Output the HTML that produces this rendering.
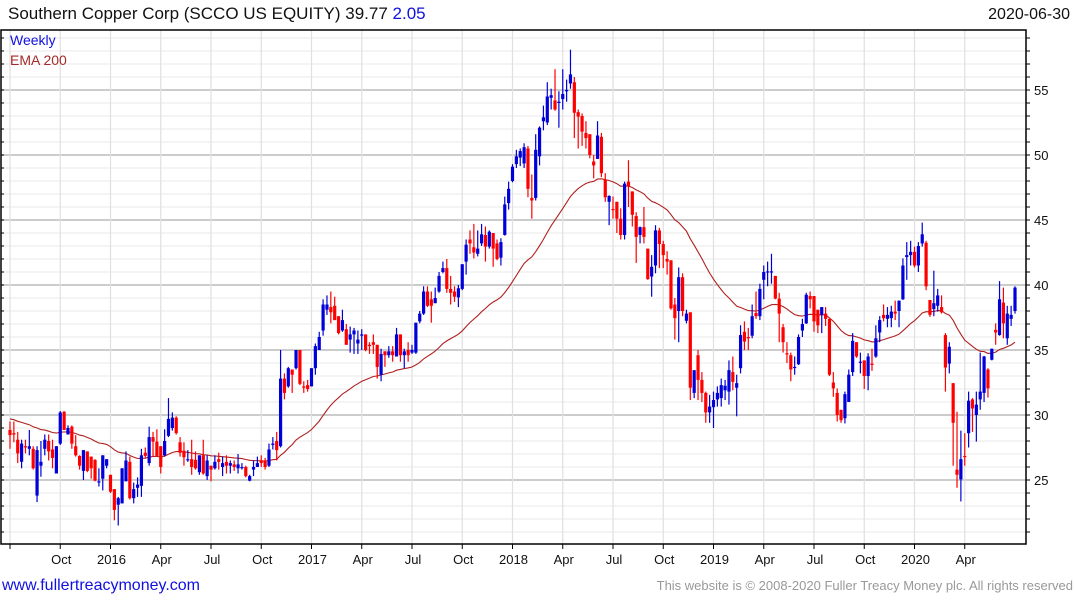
<!DOCTYPE html>
<html><head><meta charset="utf-8"><style>
html,body{margin:0;padding:0;background:#fff;}
svg{display:block;font-family:"Liberation Sans",sans-serif;}
</style></head><body>
<svg id="chart" width="1075" height="600" viewBox="0 0 1075 600">
<text x="8" y="19" font-size="17" fill="#111">Southern Copper Corp (SCCO US EQUITY) 39.77 <tspan fill="#1010e0">2.05</tspan></text>
<text x="1070" y="19" font-size="16" fill="#111" text-anchor="end">2020-06-30</text>
<g id="grid"></g>
<g id="ema"></g>
<g id="candles"></g>
<g id="axes"></g>
<text x="10" y="45" font-size="14" fill="#1010e0">Weekly</text>
<text x="10" y="65" font-size="14" fill="#a52a2a">EMA 200</text>
<text x="2" y="590" font-size="16" fill="#1010e0">www.fullertreacymoney.com</text>
<text x="1073" y="590" font-size="13" fill="#999" text-anchor="end">This website is © 2008-2020 Fuller Treacy Money plc. All rights reserved</text>
</svg>
<script>
const opens=[28.85,28.6,28.1,26.4,27.6,27.4,27.4,23.8,26.1,27.4,28.0,27.35,25.5,27.8,30.25,28.5,29.1,27.6,26.85,25.7,27.2,26.8,26.55,24.85,25.1,26.1,25.4,24.3,23.1,23.2,24.9,26.4,23.6,24.4,24.55,27.1,26.3,28.3,27.95,27.6,26.9,28.4,29.0,29.8,27.9,27.25,26.6,26.6,26.55,25.6,26.9,25.3,26.1,25.9,26.6,26.0,26.4,26.1,26.2,25.9,26.0,26.0,24.95,25.8,26.0,26.5,26.5,26.1,27.7,28.0,27.6,32.8,32.2,33.5,33.6,35.0,32.2,32.3,32.2,33.6,35.0,36.5,38.1,38.3,38.4,37.6,36.5,36.6,35.8,36.2,35.5,36.1,36.2,35.4,35.6,35.4,33.1,34.9,34.6,34.9,34.5,36.2,34.6,35.0,34.8,34.8,37.2,37.8,39.5,38.9,38.6,39.5,41.0,41.3,39.7,39.5,39.05,39.7,41.8,43.5,42.9,42.4,43.2,43.85,42.95,44.0,43.2,42.1,43.85,46.3,48.0,49.3,49.8,49.35,50.5,46.7,46.7,49.9,52.6,52.5,54.4,54.2,54.0,54.3,54.9,55.5,55.6,53.3,53.0,51.7,51.6,49.5,49.7,51.4,48.1,46.4,45.85,46.4,45.1,43.85,47.95,47.2,45.3,43.85,44.45,42.8,40.65,41.5,44.2,43.15,42.0,41.9,38.5,38.0,40.6,37.25,37.9,31.7,34.6,32.7,31.7,30.2,30.6,31.2,31.3,31.9,31.8,33.3,32.1,33.6,36.4,36.0,36.1,37.85,37.6,40.4,41.0,41.0,40.7,38.95,36.75,34.75,34.6,33.7,33.9,36.5,37.05,39.15,39.15,38.1,37.7,37.8,37.4,32.5,31.7,30.4,29.75,31.0,33.3,35.6,34.1,34.2,33.0,33.95,34.5,36.35,37.7,37.4,37.45,37.95,38.0,38.9,42.15,42.3,42.55,41.5,43.2,43.25,38.85,38.15,38.4,38.3,36.15,33.95,32.45,25.8,25.05,26.85,28.6,31.2,30.0,31.2,31.7,33.5,34.25,36.55,36.15,38.65,35.9,37.4,38.0];
const highs=[29.5,29.5,28.7,28.1,28.1,28.85,27.6,27.6,28.0,28.5,28.5,28.1,27.6,30.3,30.3,29.2,29.2,28.45,26.9,27.3,27.2,26.8,26.6,25.9,26.9,26.6,25.4,24.3,23.7,25.9,27.2,26.8,24.8,25.2,27.4,27.5,29.1,28.7,28.9,27.6,28.9,31.3,30.2,29.9,28.3,27.9,27.3,28.1,27.2,26.9,28.1,26.9,26.1,26.9,27.1,26.8,26.9,26.5,26.5,27.0,26.3,26.1,25.4,26.5,26.8,26.9,26.7,27.8,28.3,28.7,35.0,33.2,33.7,33.5,35.0,35.0,32.6,32.7,33.6,35.5,36.4,38.9,39.2,39.5,39.1,37.6,38.1,37.0,36.8,36.7,36.5,36.6,36.2,35.6,36.2,35.4,35.1,34.9,35.3,35.3,36.7,36.2,35.1,35.6,35.4,37.1,38.0,39.9,39.9,39.5,39.8,41.0,41.8,42.0,40.7,39.9,40.0,41.6,43.5,44.2,44.7,44.2,44.7,44.5,44.2,44.0,43.5,43.6,46.8,47.95,49.3,50.4,50.5,50.9,50.7,48.5,51.6,52.2,53.8,55.6,55.1,56.6,54.9,56.6,55.8,58.1,56.0,53.5,53.2,52.6,51.6,50.0,52.6,51.7,48.6,46.9,46.8,46.4,45.9,47.95,49.6,47.2,45.6,44.5,46.0,42.8,42.3,44.6,44.4,43.4,42.6,41.9,39.0,41.35,40.9,38.1,37.9,33.45,35.0,33.3,31.8,31.55,31.8,32.2,32.8,32.7,34.2,34.5,33.1,36.9,37.2,36.7,38.5,39.5,40.1,41.5,41.8,42.4,40.7,39.4,37.0,35.6,34.8,34.5,36.2,37.4,39.4,39.5,39.15,38.1,38.3,38.3,37.4,33.3,32.05,30.4,31.8,33.5,36.3,35.6,34.8,34.2,34.75,35.1,36.9,37.6,38.5,38.3,38.4,38.8,38.8,42.05,43.3,43.4,42.95,43.3,44.8,43.4,38.85,41.1,39.7,39.2,36.3,35.6,32.45,30.25,28.8,28.6,31.8,31.3,31.8,34.8,34.55,33.6,35.1,37.05,40.3,39.8,38.4,38.4,39.9];
const lows=[27.4,27.9,26.3,25.9,27.05,26.9,25.8,23.3,25.25,26.9,26.5,25.9,25.5,27.7,28.85,28.5,27.4,26.8,25.8,25.0,25.6,25.1,24.9,24.5,24.2,25.9,24.0,21.9,21.5,23.2,24.9,23.5,23.2,23.7,23.7,26.7,26.1,26.8,26.85,25.5,26.8,28.3,28.8,28.5,26.8,26.1,26.4,25.4,25.8,25.4,25.4,25.0,24.9,25.8,25.8,25.3,25.5,25.5,25.7,25.5,25.8,25.2,24.9,25.3,26.0,26.0,25.8,26.0,27.35,26.5,27.5,31.2,32.1,31.7,33.5,32.3,31.7,31.8,32.2,33.1,35.0,36.1,37.7,37.05,37.3,36.2,36.4,35.4,34.8,34.7,34.7,35.0,34.9,34.7,34.7,32.8,32.6,33.7,34.4,34.1,34.5,34.1,33.6,34.1,34.7,34.7,37.05,37.7,38.3,37.1,38.6,39.4,40.9,39.4,38.5,38.7,38.3,39.6,40.8,42.4,42.05,42.2,43.0,41.8,42.8,41.4,41.9,41.5,43.8,45.8,47.9,49.0,49.15,49.0,46.75,45.1,46.5,49.2,51.9,52.3,53.5,53.4,52.1,53.5,54.1,55.1,51.3,50.5,50.7,50.5,49.75,48.2,49.7,48.3,46.4,44.6,45.1,44.0,43.5,43.5,46.0,44.5,41.7,43.2,43.2,40.4,39.1,40.9,41.3,41.3,40.8,38.1,35.8,35.6,37.6,37.05,31.15,31.3,31.15,31.0,29.4,29.4,29.0,30.65,30.65,31.15,30.8,31.9,29.9,33.2,35.0,35.0,35.9,37.4,37.3,38.9,39.9,40.1,38.9,35.6,34.8,34.0,32.6,33.1,33.85,36.0,37.0,38.2,36.4,36.3,36.3,36.85,33.0,31.4,29.5,29.4,29.35,31.0,33.0,34.4,33.2,32.0,31.9,33.4,34.4,35.6,37.2,36.75,36.75,37.3,36.75,38.85,40.4,41.5,41.35,41.0,42.95,39.6,37.55,37.6,37.95,37.8,31.8,33.2,26.1,24.4,23.35,26.1,27.5,28.7,27.95,30.4,31.0,31.35,34.2,35.4,36.1,35.9,35.4,36.85,37.8];
const closes=[28.45,28.5,27.05,27.8,27.5,27.6,25.9,27.3,26.4,28.1,27.2,26.7,27.6,30.2,28.85,29.0,27.8,26.9,26.1,27.3,25.7,25.9,24.95,24.9,26.9,26.6,24.1,22.7,23.6,25.9,26.5,23.6,24.3,24.65,26.9,26.85,28.3,27.95,26.85,26.0,28.0,29.7,29.8,28.6,27.1,26.75,26.6,26.0,25.9,26.9,25.5,26.5,25.8,26.4,26.4,26.3,26.1,26.3,26.0,26.2,26.0,25.3,25.3,26.0,26.3,26.3,26.0,27.35,27.8,27.3,32.8,31.7,33.6,33.1,35.0,32.4,32.1,32.0,33.6,35.3,36.0,38.5,38.5,37.9,37.3,36.3,37.3,35.4,36.2,36.5,35.8,36.2,35.0,35.3,35.4,33.7,34.7,34.6,34.9,34.6,36.2,34.6,34.9,34.6,35.0,37.1,37.8,39.5,38.4,38.4,39.0,40.7,41.3,39.7,39.4,39.1,39.75,41.6,43.1,43.2,42.5,42.8,43.9,42.95,44.1,42.8,42.0,43.3,46.2,47.4,49.1,49.9,50.3,50.6,47.4,46.5,50.4,52.1,52.9,54.5,54.6,53.5,54.1,54.7,55.0,56.2,53.25,52.95,51.8,51.3,50.0,49.2,51.5,48.6,46.75,46.85,45.8,45.1,43.85,47.8,47.6,45.4,43.7,44.45,43.7,40.45,41.4,44.2,43.15,42.3,41.8,38.2,37.45,40.6,38.0,37.8,32.1,33.45,32.7,31.7,30.2,30.65,31.15,31.7,32.3,32.25,33.45,32.55,32.45,36.15,35.65,35.9,37.6,37.6,39.7,41.0,41.05,41.05,38.95,37.8,35.6,34.7,33.5,33.7,36.0,37.0,39.25,38.9,37.2,36.9,38.3,37.4,33.1,32.05,30.0,29.6,31.6,33.1,35.7,34.5,34.1,33.0,34.5,33.85,35.9,37.3,37.45,37.7,37.95,37.8,38.8,41.5,42.3,42.55,41.5,43.0,43.9,39.9,37.7,38.6,39.2,37.9,33.65,35.25,29.4,25.4,26.6,26.8,31.1,30.5,30.8,31.8,34.5,32.05,35.1,36.35,38.9,37.05,37.8,37.7,39.8];
const yTicks=[25,30,35,40,45,50,55];
const xTickLabels=["","Oct","2016","Apr","Jul","Oct","2017","Apr","Jul","Oct","2018","Apr","Jul","Oct","2019","Apr","Jul","Oct","2020","Apr"];
const emaPeriod=40;
const emaSeed=29.7;

const NS="http://www.w3.org/2000/svg";
const PL=1,PR=1026,PT=30,PB=544;
function yScale(v){return 90+(55-v)*13;}
function xIndex(i){return 10+i*(1005/(closes.length-1));}
function xTick(k){return 10+k*50.25;}
function mk(tag,attrs,parent){const e=document.createElementNS(NS,tag);for(const k in attrs)e.setAttribute(k,attrs[k]);parent.appendChild(e);return e;}

const grid=document.getElementById('grid');
for(let v=21;v<=59;v++){
  const y=yScale(v);
  const major=yTicks.indexOf(v)>=0;
  const ln=mk('line',{x1:PL,x2:PR,y1:y,y2:y,stroke:major?'#bcbcbc':'#e8e8e8','stroke-width':major?1.5:1},grid);
  
  
}
for(let k=0;k<xTickLabels.length;k++){
  const x=xTick(k);
  const ln=mk('line',{x1:x,x2:x,y1:PT,y2:PB,stroke:'#e0e0e0','stroke-width':1.2},grid);
  
  
}

const axes=document.getElementById('axes');
const frame=mk('path',{d:`M${PL} ${PT}H${PR}V${PB}H${PL}Z`,fill:'none',stroke:'#000','stroke-width':1.5},axes);


for(let v=21;v<=59;v++){
  const y=yScale(v);
  const t=mk('line',{x1:PR,x2:PR+4,y1:y,y2:y,stroke:'#000'},axes);
  
  
  const t2=mk('line',{x1:PL,x2:PL+3,y1:y,y2:y,stroke:'#000'},axes);
  
  
}
yTicks.forEach(v=>{
  const t=mk('text',{x:1034,y:yScale(v)+5,'font-size':13,fill:'#111'},axes);
  t.textContent=v;
  
  
});
xTickLabels.forEach((lab,k)=>{
  const x=xTick(k);
  const t=mk('line',{x1:x,x2:x,y1:PB,y2:PB+5,stroke:'#000'},axes);
  
  
  if(lab){
    const tx=mk('text',{x:x+1,y:564,'font-size':13,fill:'#111','text-anchor':'middle'},axes);
    tx.textContent=lab;
    
    
  }
});

const cg=document.getElementById('candles');
for(let i=0;i<closes.length;i++){
  const o=opens[i],c=closes[i],h=highs[i],l=lows[i];
  const col=c>=o?'#0000d8':'#ff0000';
  const x=xIndex(i);
  const g=mk('g',{},cg);
  
  
  mk('line',{x1:x,x2:x,y1:yScale(h),y2:yScale(l),stroke:col,'stroke-width':1.2},g);
  const top=yScale(Math.max(o,c)),bot=yScale(Math.min(o,c));
  mk('rect',{x:x-1.6,y:top,width:3.2,height:Math.max(1.2,bot-top),fill:col},g);
}

const eg=document.getElementById('ema');
let e=emaSeed;const a=2/(emaPeriod+1);let pts=[];
for(let i=0;i<closes.length;i++){
  e=i===0?emaSeed:e+a*(closes[i]-e);
  pts.push(xIndex(i).toFixed(1)+','+yScale(e).toFixed(1));
}
const pl=mk('polyline',{points:pts.join(' '),fill:'none',stroke:'#b02020','stroke-width':1.1},eg);


</script>
</body></html>
